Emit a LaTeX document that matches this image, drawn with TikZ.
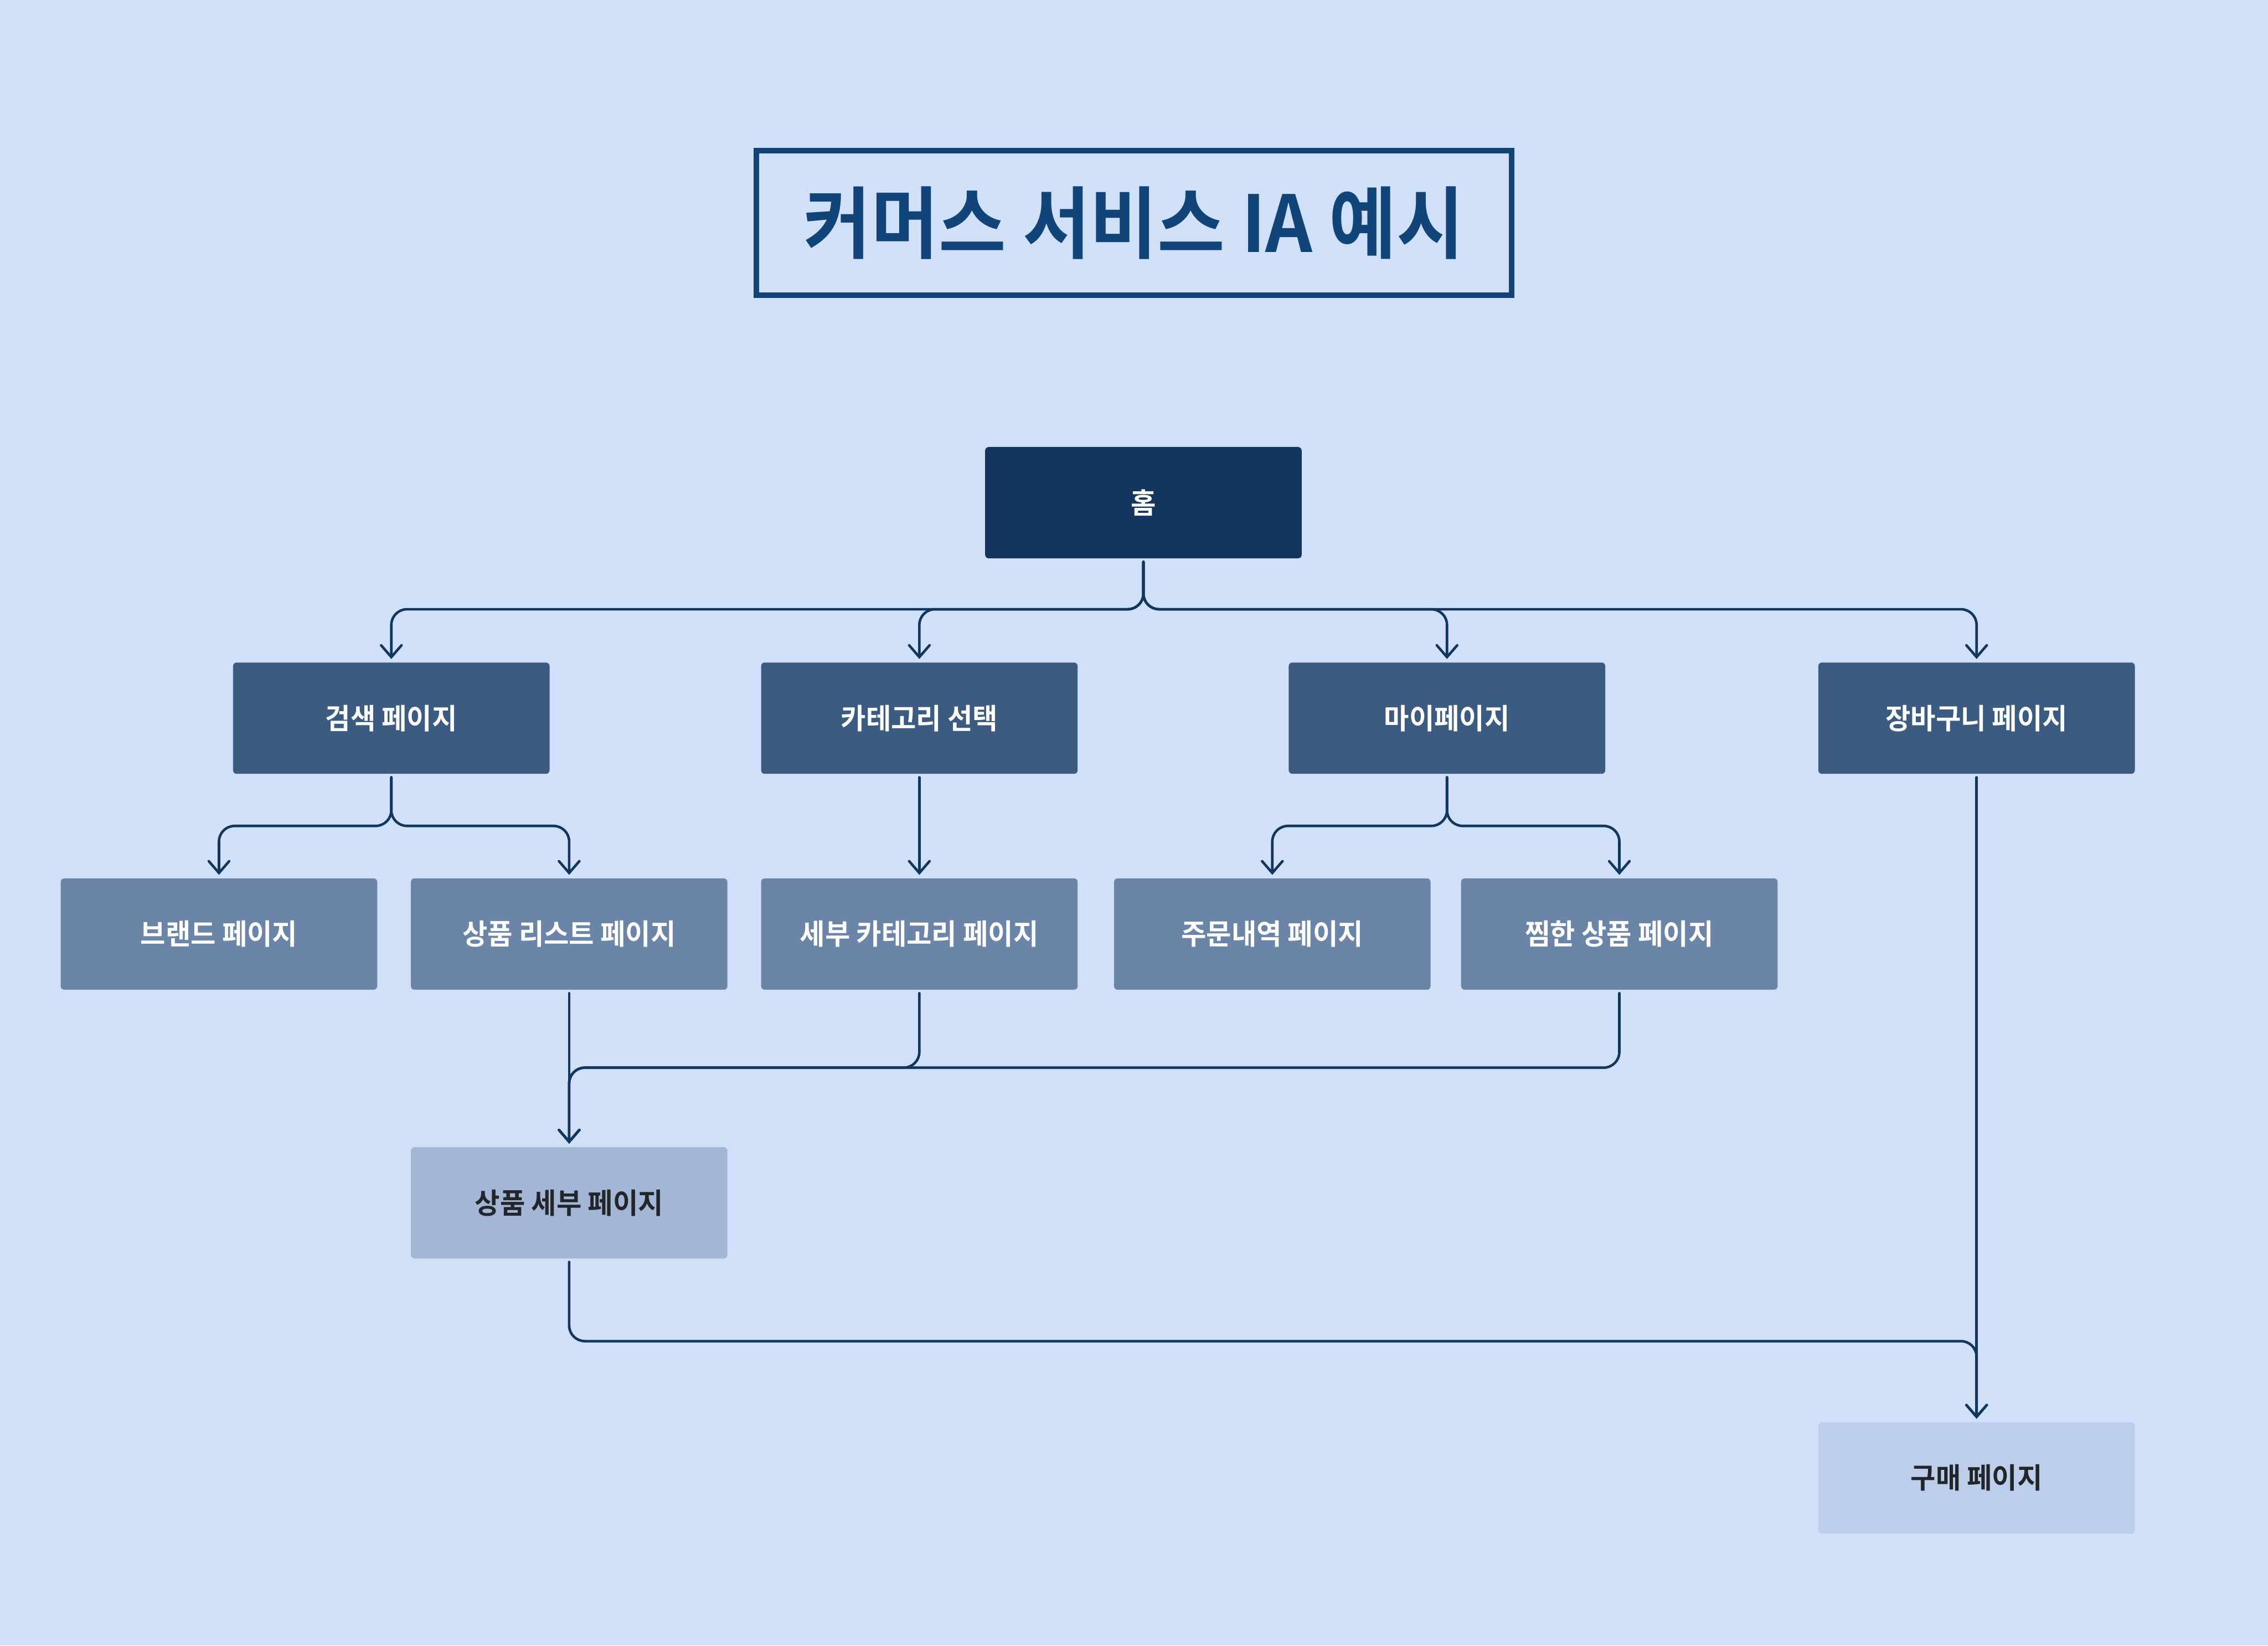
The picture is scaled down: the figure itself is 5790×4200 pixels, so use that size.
\documentclass[tikz,border=0pt]{standalone}
\usepackage{fontspec}
\usetikzlibrary{arrows.meta}
\newfontfamily\krb{Noto Sans CJK KR Bold}[FakeStretch=0.955]
\newfontfamily\krt{Noto Sans CJK KR Bold}[FakeStretch=0.935]
\definecolor{bgc}{HTML}{D0E0F9}
\definecolor{titlec}{HTML}{11457A}
\definecolor{lvlzero}{HTML}{13365E}
\definecolor{lvlone}{HTML}{3B5B80}
\definecolor{lvltwo}{HTML}{6A85A8}
\definecolor{lvlthree}{HTML}{A3B6D5}
\definecolor{lvlfour}{HTML}{BDCEEB}
\definecolor{linec}{HTML}{13365E}
\definecolor{darktext}{HTML}{22262B}
\tikzset{
  pagebox/.style={rectangle, rounded corners=9pt, minimum width=808pt, minimum height=284pt,
    inner sep=0pt, outer sep=9pt, font=\krb\fontsize{73pt}{80pt}\selectfont, text=white},
  boxzero/.style={pagebox, fill=lvlzero},
  boxone/.style={pagebox, fill=lvlone},
  boxtwo/.style={pagebox, fill=lvltwo},
  boxthree/.style={pagebox, fill=lvlthree, text=darktext},
  boxfour/.style={pagebox, fill=lvlfour, text=darktext},
  conn/.style={draw=linec, line width=6.5pt, line cap=round, rounded corners=40pt,
    -{Straight Barb[length=30pt, width=52pt, line cap=round]}}
}
\begin{document}
\begin{tikzpicture}[x=1pt, y=-1pt]
\fill[bgc] (0,0) rectangle (5790,4200);
\useasboundingbox (0,0) rectangle (5790,4200);
% title
\draw[titlec, line width=14pt] (1931,384) rectangle (3859,754);
\node[font=\krt\fontsize{200pt}{220pt}\selectfont, text=titlec, inner sep=0pt] (title) at (2895,569) {커머스 서비스 IA 예시};
% nodes
\node[boxzero] (home) at (2919,1283) {홈};
\node[boxone] (search) at (999,1833) {검색 페이지};
\node[boxone] (cat) at (2347,1833) {카테고리 선택};
\node[boxone] (my) at (3694,1833) {마이페이지};
\node[boxone] (cart) at (5046,1833) {장바구니 페이지};
\node[boxtwo] (brand) at (559,2384) {브랜드 페이지};
\node[boxtwo] (list) at (1453,2384) {상품 리스트 페이지};
\node[boxtwo] (subcat) at (2347,2384) {세부 카테고리 페이지};
\node[boxtwo] (orders) at (3248,2384) {주문내역 페이지};
\node[boxtwo] (wish) at (4134,2384) {찜한 상품 페이지};
\node[boxthree] (detail) at (1453,3070) {상품 세부 페이지};
\node[boxfour] (buy) at (5046,3772) {구매 페이지};
% bus levels
\coordinate (busone) at (0,1555);
\coordinate (bustwo) at (0,2108);
\coordinate (busthree) at (0,2725);
\coordinate (busfour) at (0,3423);
% connectors
\foreach \t in {search,cat,my,cart}
  \draw[conn] (home.south) -- (home.south |- busone) -- (\t.north |- busone) -- (\t.north);
\foreach \t in {brand,list}
  \draw[conn] (search.south) -- (search.south |- bustwo) -- (\t.north |- bustwo) -- (\t.north);
\draw[conn] (cat.south) -- (subcat.north);
\foreach \t in {orders,wish}
  \draw[conn] (my.south) -- (my.south |- bustwo) -- (\t.north |- bustwo) -- (\t.north);
\draw[conn] (list.south) -- (detail.north);
\draw[conn] (subcat.south) -- (subcat.south |- busthree) -- (detail.north |- busthree) -- (detail.north);
\draw[conn] (wish.south) -- (wish.south |- busthree) -- (detail.north |- busthree) -- (detail.north);
\draw[conn] (detail.south) -- (detail.south |- busfour) -- (buy.north |- busfour) -- (buy.north);
\draw[conn] (cart.south) -- (buy.north);
\end{tikzpicture}
\end{document}
